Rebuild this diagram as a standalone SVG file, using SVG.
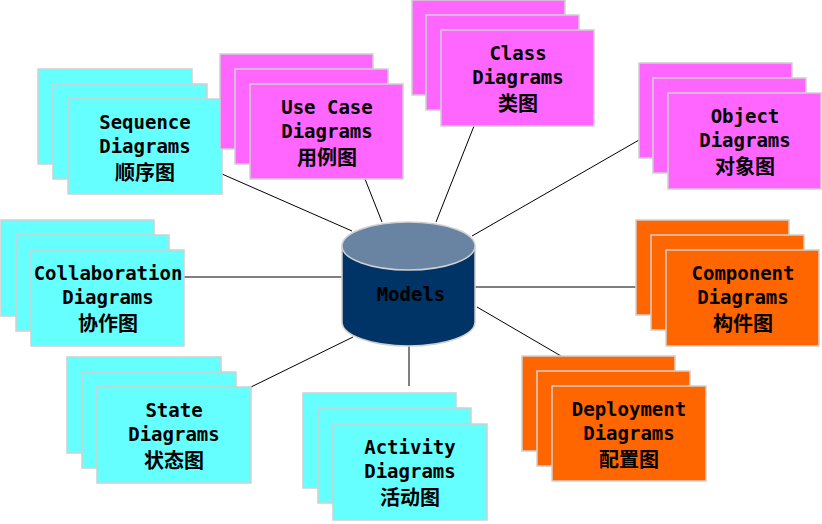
<svg xmlns="http://www.w3.org/2000/svg" width="822" height="524" viewBox="0 0 822 524">
<style>
.c{fill:#66ffff}
.m{fill:#ff66ff}
.o{fill:#ff6600}
.b{stroke:#d0d0d0;stroke-width:1.5}
.t{font-family:"DejaVu Sans Mono","Liberation Mono",monospace;font-weight:bold;font-size:19px;fill:#000;text-anchor:middle}
.z{font-family:"Noto Sans CJK SC","DejaVu Sans",sans-serif;font-weight:bold;font-size:20px;fill:#000;text-anchor:middle}
.l{stroke:#000;stroke-width:1;fill:none}
</style>
<rect width="822" height="524" fill="#fff"/>
<g id="connectors" class="l">
<line x1="222" y1="174" x2="352" y2="231"/>
<line x1="365" y1="179" x2="382" y2="222"/>
<line x1="474" y1="126" x2="436" y2="222"/>
<line x1="639" y1="140" x2="472" y2="236"/>
<line x1="184" y1="277" x2="342" y2="277"/>
<line x1="475" y1="287" x2="636" y2="287"/>
<line x1="477" y1="307" x2="561" y2="356"/>
<line x1="409" y1="346" x2="409" y2="386"/>
<line x1="251" y1="387" x2="353" y2="337"/>
</g>
<g id="models">
<path d="M342,246 V322 A66.5,24 0 0 0 475,322 V246 Z" fill="#003366" stroke="#d0d0d0" stroke-width="1.5"/>
<ellipse cx="408.5" cy="246" rx="66.5" ry="24" fill="#6884a2" stroke="#d0d0d0" stroke-width="1.5"/>
<text class="t" x="411" y="301">Models</text>
</g>
<g id="sequence">
<rect class="c b" x="38" y="69" width="154" height="95"/>
<rect class="c b" x="53" y="84" width="154" height="95"/>
<rect class="c b" x="68" y="99" width="154" height="95"/>
<text class="t" x="145" y="129">Sequence</text>
<text class="t" x="145" y="153">Diagrams</text>
<text class="z" x="145" y="180">顺序图</text>
</g>
<g id="usecase">
<rect class="m b" x="220" y="54" width="153" height="95"/>
<rect class="m b" x="235" y="69" width="153" height="95"/>
<rect class="m b" x="250" y="84" width="153" height="95"/>
<text class="t" x="327" y="114">Use Case</text>
<text class="t" x="327" y="138">Diagrams</text>
<text class="z" x="327" y="165">用例图</text>
</g>
<g id="class">
<rect class="m b" x="412" y="0" width="153" height="95"/>
<rect class="m b" x="426" y="15" width="153" height="95"/>
<rect class="m b" x="441" y="30" width="153" height="96"/>
<text class="t" x="518" y="60">Class</text>
<text class="t" x="518" y="84">Diagrams</text>
<text class="z" x="518" y="111">类图</text>
</g>
<g id="object">
<rect class="m b" x="639" y="63" width="153" height="95"/>
<rect class="m b" x="653" y="78" width="153" height="95"/>
<rect class="m b" x="668" y="93" width="153" height="96"/>
<text class="t" x="745" y="123">Object</text>
<text class="t" x="745" y="147">Diagrams</text>
<text class="z" x="745" y="174">对象图</text>
</g>
<g id="collaboration">
<rect class="c b" x="1" y="220" width="153" height="96"/>
<rect class="c b" x="16" y="235" width="153" height="96"/>
<rect class="c b" x="31" y="250" width="153" height="96"/>
<text class="t" x="108" y="280">Collaboration</text>
<text class="t" x="108" y="304">Diagrams</text>
<text class="z" x="108" y="331">协作图</text>
</g>
<g id="component">
<rect class="o b" x="636" y="220" width="153" height="95"/>
<rect class="o b" x="651" y="235" width="153" height="95"/>
<rect class="o b" x="666" y="250" width="153" height="96"/>
<text class="t" x="743" y="280">Component</text>
<text class="t" x="743" y="304">Diagrams</text>
<text class="z" x="743" y="331">构件图</text>
</g>
<g id="state">
<rect class="c b" x="67" y="357" width="154" height="96"/>
<rect class="c b" x="82" y="372" width="154" height="96"/>
<rect class="c b" x="97" y="387" width="154" height="96"/>
<text class="t" x="174" y="417">State</text>
<text class="t" x="174" y="441">Diagrams</text>
<text class="z" x="174" y="468">状态图</text>
</g>
<g id="activity">
<rect class="c b" x="303" y="393" width="153" height="95"/>
<rect class="c b" x="318" y="408" width="153" height="95"/>
<rect class="c b" x="333" y="424" width="154" height="96"/>
<text class="t" x="410" y="454">Activity</text>
<text class="t" x="410" y="478">Diagrams</text>
<text class="z" x="410" y="505">活动图</text>
</g>
<g id="deployment">
<rect class="o b" x="522" y="356" width="153" height="95"/>
<rect class="o b" x="537" y="371" width="153" height="95"/>
<rect class="o b" x="552" y="386" width="154" height="95"/>
<text class="t" x="629" y="416">Deployment</text>
<text class="t" x="629" y="440">Diagrams</text>
<text class="z" x="629" y="467">配置图</text>
</g>
</svg>
